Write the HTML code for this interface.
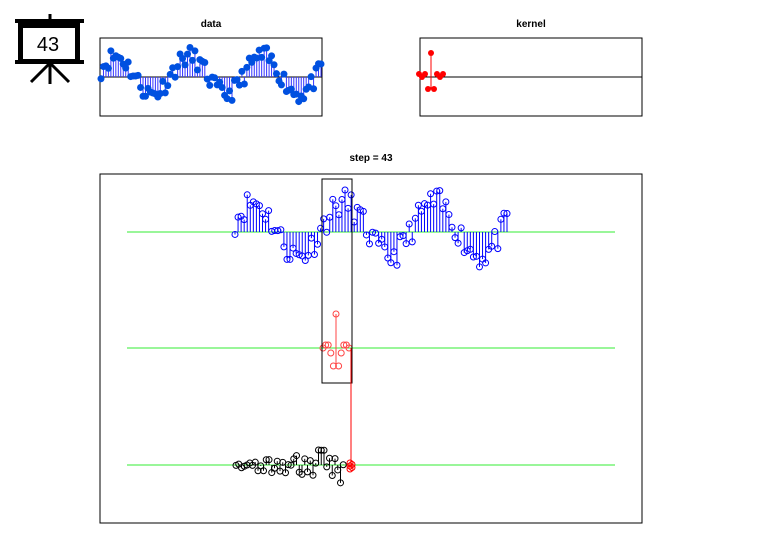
<!DOCTYPE html>
<html><head><meta charset="utf-8"><style>
body{margin:0;background:#fff;width:759px;height:548px;overflow:hidden}
svg{display:block}
text{font-family:"Liberation Sans",sans-serif}
</style></head><body>
<svg id="s" width="759" height="548" viewBox="0 0 759 548" xmlns="http://www.w3.org/2000/svg">
<rect x="20.5" y="25.5" width="57" height="36" fill="#fff" stroke="#000" stroke-width="5"/>
<rect x="15" y="19" width="69" height="4" fill="#000"/>
<rect x="15" y="60" width="69" height="4" fill="#000"/>
<line x1="50" y1="14" x2="50" y2="20" stroke="#000" stroke-width="3"/>
<line x1="50" y1="62" x2="50" y2="84" stroke="#000" stroke-width="3"/>
<line x1="49" y1="64" x2="31" y2="82" stroke="#000" stroke-width="3"/>
<line x1="51" y1="64" x2="69" y2="82" stroke="#000" stroke-width="3"/>
<text x="48" y="51" font-size="20" text-anchor="middle">43</text>
<text x="211" y="27" font-size="10" font-weight="bold" text-anchor="middle">data</text>
<text x="531" y="27" font-size="10" font-weight="bold" text-anchor="middle">kernel</text>
<text x="371" y="161" font-size="10" font-weight="bold" text-anchor="middle">step = 43</text>
<rect x="100" y="38" width="222" height="78" fill="none" stroke="#000"/>
<rect x="420" y="38" width="222" height="78" fill="none" stroke="#000"/>
<line x1="100" y1="77" x2="322" y2="77" stroke="#000"/>
<line x1="420" y1="77" x2="642" y2="77" stroke="#000"/>
<rect x="100" y="174" width="542" height="349" fill="none" stroke="#000"/>
<line x1="127" y1="232" x2="615" y2="232" stroke="#3e3"/>
<line x1="127" y1="348" x2="615" y2="348" stroke="#3e3"/>
<line x1="127" y1="465" x2="615" y2="465" stroke="#3e3"/>
<g id="g"></g>
<rect x="322" y="179" width="30" height="204" fill="none" stroke="#000"/>
<line x1="351" y1="348" x2="351" y2="465" stroke="#f00"/>
</svg>
<script>
var g=document.getElementById('g'),h='';
var seed=11;function r(){seed=(seed*16807)%2147483647;return seed/2147483647;}
var N=90,d=[];
for(var i=0;i<N;i++){var t=3*i/(N-1);d.push(Math.sin(2*Math.PI*(t+0.05))*1.0+0.1+(r()-0.5)*1.0);}
for(var i=0;i<N;i++){var x=101+i*(220/(N-1)),y=77-d[i]*19;
h+='<line x1="'+x+'" y1="77" x2="'+x+'" y2="'+y+'" stroke="#33f" stroke-width="1"/>';}
for(var i=0;i<N;i++){var x=101+i*(220/(N-1)),y=77-d[i]*19;
h+='<circle cx="'+x+'" cy="'+y+'" r="3.5" fill="#0050e0"/>';}
for(var i=0;i<N;i++){var x=235+i*(272/(N-1)),y=232-d[i]*27;
h+='<line x1="'+x+'" y1="232" x2="'+x+'" y2="'+y+'" stroke="#00f"/><circle cx="'+x+'" cy="'+y+'" r="3" fill="none" stroke="#00f"/>';}
var k=[[-3,0],[-2,-3],[0,-24],[-1,12],[1,12],[2,-3],[3,0],[4,-3],[-4,-3]];
h+='<line x1="431" y1="77" x2="431" y2="53" stroke="#f00"/><line x1="431" y1="77" x2="431" y2="89" stroke="#f00"/>';
for(var j=0;j<k.length;j++){var x=431+k[j][0]*3,y=77+k[j][1];
h+='<circle cx="'+x+'" cy="'+y+'" r="3" fill="#f00"/>';}
var km=[[-5,0],[-4,-3],[-3,-3],[-2,5],[0,-34],[-1,18],[1,18],[2,5],[3,-3],[4,-3],[5,0]];
h+='<line x1="336" y1="348" x2="336" y2="314" stroke="#f44"/><line x1="336" y1="348" x2="336" y2="365" stroke="#f44"/>';
for(var j=0;j<km.length;j++){var x=336+km[j][0]*2.6,y=348+km[j][1];
h+='<circle cx="'+x+'" cy="'+y+'" r="3" fill="none" stroke="#f44"/>';}
for(var i=0;i<40;i++){var x=236+i*2.75,a=(i/40)*16+3,y=465+(r()-0.5)*2*a;
h+='<line x1="'+x+'" y1="465" x2="'+x+'" y2="'+y+'" stroke="#000"/><circle cx="'+x+'" cy="'+y+'" r="3" fill="none" stroke="#000"/>';}
for(var j=0;j<5;j++)h+='<circle cx="'+(350+(j%2)*2)+'" cy="'+(463+j*1.5)+'" r="3" fill="none" stroke="#f00"/>';
g.innerHTML=h;
</script>
</body></html>
